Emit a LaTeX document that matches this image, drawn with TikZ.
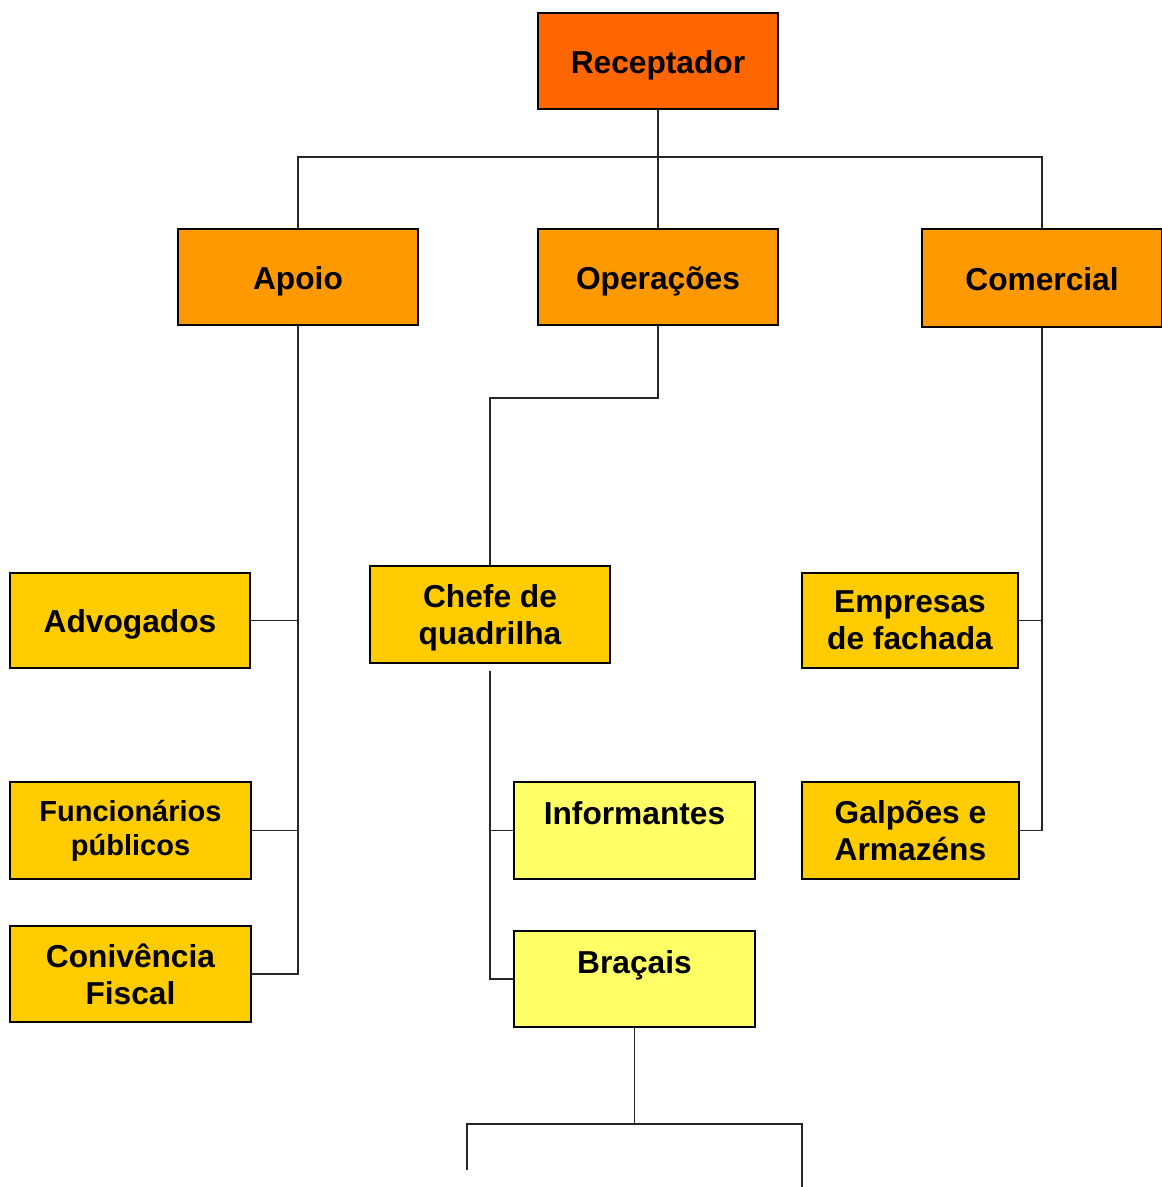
\documentclass[tikz,border=0pt]{standalone}
\usepackage{fontspec}
\setmainfont{Liberation Sans}
\usepackage{xcolor}
\usepackage{tikz}
\usetikzlibrary{positioning}
\definecolor{redorange}{HTML}{FF6600}
\definecolor{midorange}{HTML}{FF9900}
\definecolor{gold}{HTML}{FFCC00}
\definecolor{paleyellow}{HTML}{FFFF66}

\begin{document}
\begin{tikzpicture}[x=1pt,y=-1pt,
        line width=1.4pt,
        box/.style={rectangle,draw=black,line width=1.6pt,inner sep=0pt,align=center,
          minimum width=240pt,minimum height=96pt,
          font=\fontsize{31.7}{37}\selectfont\bfseries},
        one line/.style={text height=31pt,text depth=7pt},
        top box/.style={box,one line,fill=redorange},
        branch box/.style={box,one line,fill=midorange},
        leaf box/.style={box,fill=gold},
        low box/.style={box,fill=paleyellow,text height=42pt,text depth=55pt},
        link/.style={draw=black!85,line width=1.4pt}]
      \useasboundingbox (0,0) rectangle (1162,1187);

      \node[top box] (rec) at (658,61) {Receptador};
      \node[branch box] (apo) at (298,277) {Apoio};
      \node[branch box] (ope) at (658,277) {Operações};
      \node[branch box,minimum height=98pt] (com) at (1042,278) {Comercial};

      \node[leaf box,one line,minimum height=95pt] (adv) at (130,620.5) {Advogados};
      \node[leaf box,minimum width=241pt,minimum height=97pt,font=\fontsize{29}{34}\selectfont\bfseries]
        (fun) at (130.5,830.5) {Funcionários\\públicos};
      \node[leaf box,minimum width=241pt] (con) at (130.5,974) {Conivência\\Fiscal};

      \node[leaf box,minimum height=97pt,text depth=0pt] (che) at (490,614.5) {Chefe de\\quadrilha};
      \node[low box,minimum width=241pt] (inf) at (634.5,830.5) {Informantes};
      \node[low box,minimum width=241pt,text depth=54pt] (bra) at (634.5,979) {Braçais};

      \node[leaf box,minimum width=216pt,minimum height=95pt] (emp) at (910,620.5) {Empresas\\de fachada};
      \node[leaf box,minimum width=217pt,minimum height=97pt] (gal) at (910.5,830.5) {Galpões e\\Armazéns};

      \coordinate (bus) at (658,157);
      \coordinate (lowl) at (467,1170);
      \coordinate (lowr) at (802,1187);

      \path[link] (rec.south) -- (bus)
        (apo.north) |- (bus) -| (com.north)
        (bus) -- (ope.north);
      \path[link] (apo.south) |- (con.east)
        (adv.east) -- (adv.east -| apo.south)
        (fun.east) -- (fun.east -| apo.south);
      \path[link] (ope.south) -- ++(0,72) -| (che.north);
      \path[link] ([yshift=-7pt]che.south) |- (bra.west)
        (inf.west) -- (inf.west -| che.south);
      \path[link] (com.south) |- (gal.east)
        (emp.east) -- (emp.east -| com.south);
      \path[link] (bra.south) -- ++(0,96) coordinate (lowbus)
        (lowl) |- (lowbus) -| (lowr);
    \end{tikzpicture}
\end{document}
